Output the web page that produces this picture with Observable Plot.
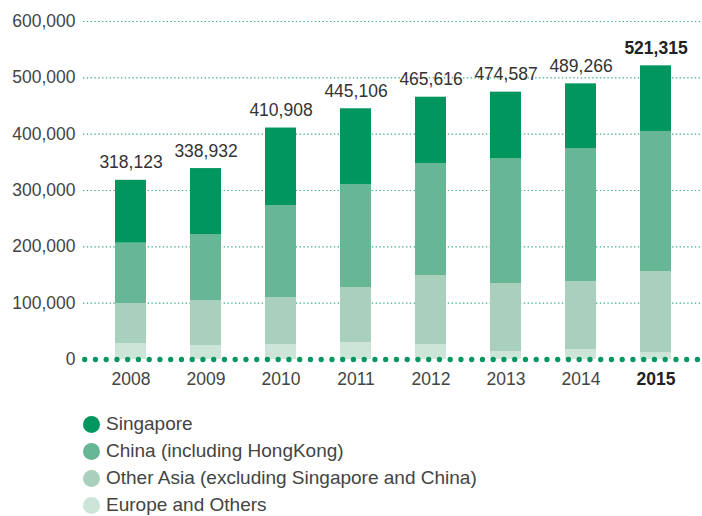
<!DOCTYPE html>
<html>
<head>
<meta charset="utf-8">
<script src="https://cdn.jsdelivr.net/npm/d3@7"></script>
<script src="https://cdn.jsdelivr.net/npm/@observablehq/plot@0.6"></script>
<style>
  body { margin: 0; background: #fff; font-family: "Liberation Sans", Arial, Helvetica, sans-serif; }
  #chart svg { display: block; }
  .legend { margin: 13px 0 0 83px; }
  .legend .row { display: flex; align-items: center; height: 26.9px; font-size: 19px; color: #444; }
  .legend .sw { width: 17px; height: 17px; border-radius: 50%; margin-right: 6px; flex: none; }
</style>
</head>
<body>
<div id="chart"></div>
<div class="legend" id="legend"></div>
<script>
const years = ["2008", "2009", "2010", "2011", "2012", "2013", "2014", "2015"];
const seriesNames = ["Singapore", "China (including HongKong)", "Other Asia (excluding Singapore and China)", "Europe and Others"];
const colors = ["#00965e", "#67b695", "#a8d0bc", "#cde4d8"];
const singapore = [111600, 117000, 137500, 134400, 117600, 117800, 114700, 116500];
const china = [107100, 117200, 163400, 182900, 198900, 221900, 236100, 248600];
const otherAsia = [71000, 79800, 83400, 97600, 122500, 120700, 120700, 143800];
const europe = [28400, 24900, 26600, 30200, 26600, 14200, 17800, 12400];
const totals = [318123, 338932, 410908, 445106, 465616, 474587, 489266, 521315];
const totalLabels = ["318,123", "338,932", "410,908", "445,106", "465,616", "474,587", "489,266", "521,315"];
const yTicks = [0, 100000, 200000, 300000, 400000, 500000, 600000];

// Build table (stack order bottom -> top)
const stackOrder = [
  [seriesNames[3], europe],
  [seriesNames[2], otherAsia],
  [seriesNames[1], china],
  [seriesNames[0], singapore]
];
const rows = [];
years.forEach((yr, i) => {
  stackOrder.forEach(([name, arr]) => rows.push({year: yr, series: name, value: arr[i]}));
});
const totalRows = years.map((yr, i) => ({year: yr, total: totals[i], label: totalLabels[i]}));
const lastYear = years[years.length - 1];

const font = "Liberation Sans, Arial, Helvetica, sans-serif";
const chart = Plot.plot({
  width: 702,
  height: 398,
  marginTop: 21,
  marginBottom: 39,
  marginLeft: 83,
  marginRight: 0,
  style: {fontFamily: font, fontSize: "17.5px", color: "#444", background: "#fff"},
  x: {domain: years, paddingInner: 0.59, paddingOuter: 0.39, axis: null, label: null},
  y: {domain: [0, 600000], axis: null, label: null},
  color: {domain: seriesNames, range: colors},
  marks: [
    Plot.ruleY(yTicks.filter(d => d > 0), {stroke: "#3aae82", strokeWidth: 1.2, strokeDasharray: "1.4,2.4"}),
    Plot.barY(rows, {x: "year", y: "value", fill: "series", order: null}),
    Plot.ruleY([0], {stroke: "#00965e", strokeWidth: 5.3, strokeDasharray: "0,10.75", strokeLinecap: "round", strokeDashoffset: -1.7}),
    Plot.axisY({ticks: yTicks, tickSize: 0, tickPadding: 8, tickFormat: d3.format(","), fontSize: 17.5, fill: "#444", label: null}),
    Plot.axisX({ticks: years.filter(y => y !== lastYear), tickSize: 0, tickPadding: 13, fontSize: 17.5, fill: "#444", label: null}),
    Plot.axisX({ticks: [lastYear], tickSize: 0, tickPadding: 13, fontSize: 17.5, fontWeight: "bold", fill: "#222", label: null}),
    Plot.text(totalRows.filter(d => d.year !== lastYear), {x: "year", y: "total", text: "label", dy: -12, lineAnchor: "bottom", fontSize: 17.5, fill: "#333"}),
    Plot.text(totalRows.filter(d => d.year === lastYear), {x: "year", y: "total", text: "label", dy: -12, lineAnchor: "bottom", fontSize: 17.5, fontWeight: "bold", fill: "#222"})
  ]
});
document.getElementById("chart").appendChild(chart);

const legend = document.getElementById("legend");
seriesNames.forEach((name, i) => {
  const row = document.createElement("div");
  row.className = "row";
  const sw = document.createElement("span");
  sw.className = "sw";
  sw.style.background = colors[i];
  const t = document.createElement("span");
  t.textContent = name;
  row.appendChild(sw);
  row.appendChild(t);
  legend.appendChild(row);
});
</script>
</body>
</html>
